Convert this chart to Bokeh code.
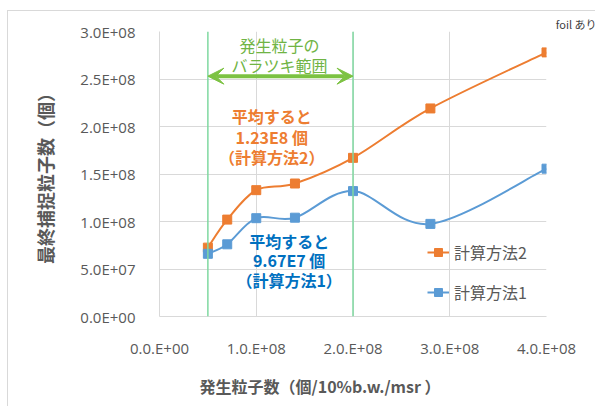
from bokeh.plotting import figure
from bokeh.models import (FixedTicker, Label, Legend, LegendItem, Span, Arrow,
                          VeeHead, ColumnDataSource, Title)
from bokeh.embed import file_html
from bokeh.resources import INLINE

# Generated particle count (x) and final captured particle count (y)
x_m2 = [5.0e7, 7.0e7, 1.0e8, 1.4e8, 2.0e8, 2.8e8, 4.0e8]
y_m2 = [7.25e7, 1.02e8, 1.33e8, 1.40e8, 1.67e8, 2.19e8, 2.78e8]
x_m1 = [5.0e7, 7.0e7, 1.0e8, 1.4e8, 2.0e8, 2.8e8, 4.0e8]
y_m1 = [6.6e7, 7.6e7, 1.035e8, 1.04e8, 1.32e8, 9.75e7, 1.556e8]

series_names = ["計算方法2", "計算方法1"]
x_ticks = [0, 1e8, 2e8, 3e8, 4e8]
x_tick_labels = ["0.0.E+00", "1.0.E+08", "2.0.E+08", "3.0.E+08", "4.0.E+08"]
y_ticks = [0, 5e7, 1e8, 1.5e8, 2e8, 2.5e8, 3e8]
y_tick_labels = ["0.0E+00", "5.0E+07", "1.0E+08", "1.5E+08", "2.0E+08", "2.5E+08", "3.0E+08"]
spread_range = [5.0e7, 2.0e8]

ORANGE = "#ED7D31"
BLUE = "#5B9BD5"
GREEN_TXT = "#70B444"
GREEN_ARROW = "#7CC242"
GREY = "#595959"
JP = "Noto Sans CJK JP"


def smooth_segments(xs, ys):
    """Cubic Bezier control points for a smoothed polyline."""
    px = [xs[0]] + list(xs) + [xs[-1]]
    py = [ys[0]] + list(ys) + [ys[-1]]
    seg = dict(x0=[], y0=[], x1=[], y1=[], cx0=[], cy0=[], cx1=[], cy1=[])
    for i in range(1, len(xs)):
        a, b, c, d = i - 1, i, i + 1, i + 2
        seg["x0"].append(px[b]); seg["y0"].append(py[b])
        seg["x1"].append(px[c]); seg["y1"].append(py[c])
        seg["cx0"].append(px[b] + (px[c] - px[a]) / 6)
        seg["cy0"].append(py[b] + (py[c] - py[a]) / 6)
        seg["cx1"].append(px[c] - (px[d] - px[b]) / 6)
        seg["cy1"].append(py[c] - (py[d] - py[b]) / 6)
    return ColumnDataSource(seg)


p = figure(width=590, height=398, x_range=(0, 4e8), y_range=(0, 3e8),
           output_backend="svg", toolbar_location=None,
           min_border_left=151, min_border_right=52, min_border_top=20,
           min_border_bottom=89, margin=(10, 0, 0, 7),
           styles={"border": "1px solid #D9D9D9"})
p.outline_line_color = None
p.background_fill_color = "white"
p.border_fill_color = "white"

for ax in (p.xaxis, p.yaxis):
    ax.axis_line_color = "#D9D9D9"
    ax.major_tick_line_color = None
    ax.minor_tick_line_color = None
    ax.major_label_text_color = GREY
    ax.major_label_text_font = "Open Sans"
    ax.major_label_text_font_size = "15px"

p.xaxis.ticker = FixedTicker(ticks=x_ticks)
p.xaxis.major_label_overrides = {t: s for t, s in zip(x_ticks, x_tick_labels)}
p.xaxis.major_label_standoff = 15
p.yaxis.ticker = FixedTicker(ticks=y_ticks)
p.yaxis.major_label_overrides = {t: s for t, s in zip(y_ticks, y_tick_labels)}
p.yaxis.major_label_standoff = 18

# y axis title
p.yaxis.axis_label = "最終捕捉粒子数（個）"
p.yaxis.axis_label_text_font = JP
p.yaxis.axis_label_text_font_size = "18px"
p.yaxis.axis_label_text_font_style = "bold"
p.yaxis.axis_label_text_color = GREY
p.yaxis.axis_label_standoff = 19

p.xgrid.ticker = FixedTicker(ticks=x_ticks)
p.ygrid.ticker = FixedTicker(ticks=y_ticks)
p.grid.grid_line_color = "#D9D9D9"
p.grid.grid_line_width = 1

# x axis title and corner note
p.add_layout(Title(text="発生粒子数（個/10%b.w./msr ）", align="left", offset=40,
                   standoff=23, text_font=JP, text_font_size="16px",
                   text_font_style="bold", text_color=GREY), "below")
p.add_layout(Title(text="foil あり", align="right", offset=-50, standoff=0,
                   text_font=JP, text_font_size="11px", text_font_style="normal",
                   text_color="#404040"), "above")

# spread of generated particles
for xv in spread_range:
    p.add_layout(Span(location=xv, dimension="height", line_color="#7FD8A0",
                      line_width=1.5))
p.add_layout(Arrow(x_start=spread_range[0], x_end=spread_range[1],
                   y_start=2.53e8, y_end=2.53e8,
                   line_color=GREEN_ARROW, line_width=4,
                   start=VeeHead(size=16, fill_color=GREEN_ARROW, line_color=GREEN_ARROW),
                   end=VeeHead(size=16, fill_color=GREEN_ARROW, line_color=GREEN_ARROW)))

# series
curves = []
for xs, ys, col in ((x_m2, y_m2, ORANGE), (x_m1, y_m1, BLUE)):
    src = smooth_segments(xs, ys)
    bz = p.bezier(x0="x0", y0="y0", x1="x1", y1="y1", cx0="cx0", cy0="cy0",
                  cx1="cx1", cy1="cy1", source=src, line_color=col, line_width=2)
    sc = p.scatter(xs, ys, marker="square", size=9, fill_color=col, line_color=col)
    curves.append((bz, sc))

legend = Legend(items=[LegendItem(label=series_names[0], renderers=list(curves[0])),
                       LegendItem(label=series_names[1], renderers=list(curves[1]))],
                location=(268, 12), orientation="vertical",
                glyph_width=22, glyph_height=20, label_height=20, spacing=16,
                label_standoff=5, padding=0, margin=0,
                background_fill_alpha=0, border_line_color=None,
                label_text_font=JP, label_text_font_size="16px",
                label_text_color=GREY)
p.add_layout(legend)


def txt(x, y, s, color, size="16px", style="normal"):
    p.add_layout(Label(x=x, y=y, text=s, text_color=color, text_font=JP,
                       text_font_size=size, text_font_style=style,
                       text_align="center", text_baseline="middle"))


txt(1.24e8, 2.86e8, "発生粒子の", GREEN_TXT)
txt(1.24e8, 2.65e8, "バラツキ範囲", GREEN_TXT)

txt(1.16e8, 2.11e8, "平均すると", ORANGE, style="bold")
txt(1.16e8, 1.89e8, "1.23E8 個", ORANGE, style="bold")
txt(1.16e8, 1.68e8, "（計算方法2）", ORANGE, style="bold")

txt(1.34e8, 0.80e8, "平均すると", "#0070C0", style="bold")
txt(1.34e8, 0.59e8, "9.67E7 個", "#0070C0", style="bold")
txt(1.34e8, 0.38e8, "（計算方法1）", "#0070C0", style="bold")

open("out.html", "w").write(file_html(p, INLINE))
